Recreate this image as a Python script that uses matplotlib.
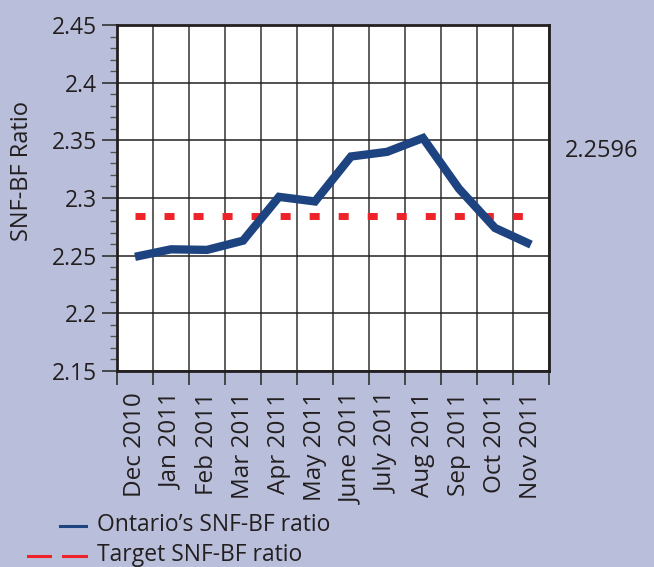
import matplotlib
matplotlib.use("Agg")
import matplotlib.pyplot as plt
from matplotlib.lines import Line2D
import numpy as np

months = ["Dec 2010", "Jan 2011", "Feb 2011", "Mar 2011", "Apr 2011", "May 2011",
          "June 2011", "July 2011", "Aug 2011", "Sep 2011", "Oct 2011", "Nov 2011"]
ontario = [2.249, 2.2555, 2.255, 2.263, 2.301, 2.297, 2.336, 2.340, 2.352, 2.308, 2.274, 2.2596]
target = [2.284] * len(months)
yticks = [2.15, 2.2, 2.25, 2.3, 2.35, 2.4, 2.45]
ytick_labels = ["2.15", "2.2", "2.25", "2.3", "2.35", "2.4", "2.45"]
annot = "2.2596"

BG = "#b9bfda"
BLUE = "#1e4381"
RED = "#ee2229"
TXT = "#231f20"

plt.rcParams['font.family'] = ['Open Sans', 'DejaVu Sans']
plt.rcParams['lines.scale_dashes'] = False

W, H = 654, 567
fig = plt.figure(figsize=(W / 100, H / 100), dpi=100, facecolor=BG)
ax = fig.add_axes([117 / W, 1 - 371 / H, 432 / W, 346 / H])
ax.set_facecolor("white")

x = np.arange(len(months))
ax.plot(x, ontario, color=BLUE, lw=6.0, solid_joinstyle="miter", solid_capstyle="butt", zorder=4)
ax.plot(x, target, color=RED, lw=5.0, dashes=(7.2, 13.7), dash_capstyle="butt", zorder=3)

ax.set_xlim(-0.5, len(months) - 0.5)
ax.set_ylim(2.15, 2.45)

ax.set_yticks(yticks)
ax.set_yticklabels(ytick_labels, fontsize=16.5, color=TXT)
ax.set_yticks(np.arange(2.15, 2.4501, 0.01), minor=True)
ax.tick_params(axis="y", which="major", length=11, width=1.2, color="#333333", pad=3.5)
ax.tick_params(axis="y", which="minor", length=5, width=1.0, color="#555555")

ax.set_xticks(x)
ax.set_xticklabels(months, rotation=90, fontsize=17.5, color=TXT, va="top", ha="center")
ax.set_xticks(np.arange(-0.5, len(months), 1.0), minor=True)
ax.tick_params(axis="x", which="major", length=0, pad=15)
ax.tick_params(axis="x", which="minor", length=10, width=1.2, color="#333333")

ax.grid(True, axis="y", which="major", color="#222222", lw=1.1)
ax.grid(True, axis="x", which="minor", color="#333333", lw=1.1)
ax.set_axisbelow(True)
for s in ax.spines.values():
    s.set_linewidth(2.0)
    s.set_color("#231f20")
    s.set_zorder(5)

fig.text(22 / W, 1 - 171 / H, "SNF-BF Ratio", rotation=90, fontsize=17, color=TXT,
         ha="center", va="center")
fig.text(565 / W, 1 - 151 / H, annot, fontsize=17, color=TXT, ha="left", va="center")

# legend
fig.add_artist(Line2D([60 / W, 86 / W], [1 - 526 / H] * 2, color=BLUE, lw=2.2))
fig.text(97 / W, 1 - 525 / H, "Ontario\u2019s SNF-BF ratio", fontsize=16.5, color=TXT,
         ha="left", va="center")
fig.add_artist(Line2D([28 / W, 50 / W], [1 - 556 / H] * 2, color=RED, lw=2.2))
fig.add_artist(Line2D([63 / W, 86 / W], [1 - 556 / H] * 2, color=RED, lw=2.2))
fig.text(97 / W, 1 - 561 / H, "Target SNF-BF ratio", fontsize=16.5, color=TXT,
         ha="left", va="baseline")

fig.savefig("out.png", dpi=100, facecolor=BG)
